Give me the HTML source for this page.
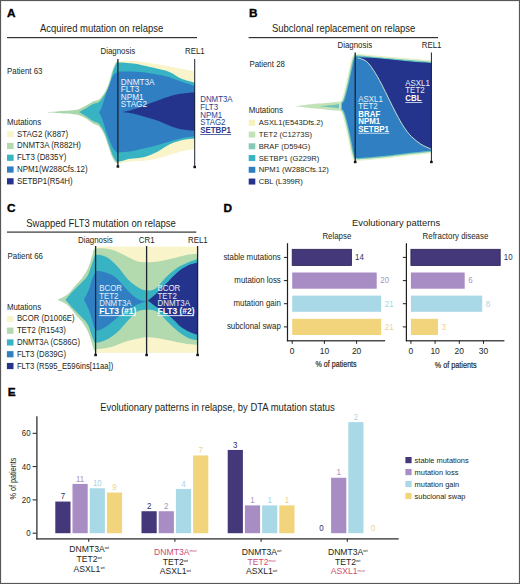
<!DOCTYPE html>
<html><head><meta charset="utf-8">
<style>
html,body{margin:0;padding:0;background:#fff;}
svg{display:block;}
text{font-family:"Liberation Sans",sans-serif;}
</style></head>
<body>
<svg width="520" height="584" viewBox="0 0 520 584">
<rect x="0" y="0" width="520" height="584" fill="#fff"/>
<text x="7.00" y="16.55" font-size="11.80" fill="#000" font-weight="bold" stroke="#000" stroke-width="0.35">A</text>
<text transform="translate(40.00,32.00) scale(0.9434,1)" font-size="10.07" fill="#231f20" >Acquired mutation on relapse</text>
<rect x="7.00" y="37.00" width="190.00" height="1.20" fill="#333" />
<text transform="translate(100.50,54.00) scale(0.9434,1)" font-size="8.37" fill="#231f20" >Diagnosis</text>
<text transform="translate(185.00,54.00) scale(0.9434,1)" font-size="8.37" fill="#231f20" >REL1</text>
<text transform="translate(7.00,73.50) scale(0.9434,1)" font-size="8.37" fill="#231f20" >Patient 63</text>
<text transform="translate(7.00,124.50) scale(0.9434,1)" font-size="8.37" fill="#231f20" >Mutations</text>
<path d="M48.0,111.9 C49.5,111.8 54.2,111.6 57.0,111.4 C59.8,111.2 62.0,111.0 65.0,110.8 C68.0,110.6 72.5,110.3 75.0,110.0 C77.5,109.7 78.2,109.5 80.0,108.8 C81.8,108.1 83.8,106.8 86.0,105.6 C88.2,104.4 90.8,102.5 93.0,101.5 C95.2,100.5 97.1,101.0 99.0,99.6 C100.9,98.1 102.9,95.5 104.5,92.8 C106.1,90.1 107.4,87.4 108.8,83.5 C110.2,79.6 111.6,73.0 112.8,69.5 C114.0,66.0 115.0,64.0 116.0,62.5 C117.0,61.0 118.1,61.1 118.5,60.8 L118.5,163.8 C118.0,163.5 116.6,163.4 115.5,162.2 C114.4,161.0 113.2,159.2 112.0,156.5 C110.8,153.8 109.5,149.6 108.3,146.0 C107.0,142.4 106.0,138.3 104.5,135.0 C103.0,131.7 100.9,128.1 99.0,126.2 C97.1,124.3 95.2,124.7 93.0,123.4 C90.8,122.1 88.2,119.9 86.0,118.6 C83.8,117.3 81.8,116.1 80.0,115.4 C78.2,114.7 77.5,114.7 75.0,114.4 C72.5,114.1 68.0,113.8 65.0,113.6 C62.0,113.4 59.8,113.2 57.0,113.0 C54.2,112.8 49.5,112.7 48.0,112.6 Z" fill="#acd6ac" />
<path d="M118.0,61.0 C120.0,61.0 126.3,61.0 130.0,61.1 C133.7,61.2 135.0,61.2 140.0,61.8 C145.0,62.4 155.0,63.9 160.0,64.7 C165.0,65.5 166.7,65.8 170.0,66.4 C173.3,67.0 175.8,67.7 180.0,68.5 C184.2,69.3 192.5,71.0 195.0,71.5 L195.0,149.0 C193.1,149.3 187.9,149.8 183.8,150.8 C179.7,151.8 174.9,153.5 170.4,154.8 C165.9,156.1 161.5,157.7 157.0,158.7 C152.5,159.7 148.0,160.3 143.5,160.8 C139.0,161.3 134.2,161.0 130.0,161.5 C125.8,162.0 120.0,163.2 118.0,163.6 Z" fill="#f9f4c9" />
<path d="M79.0,112.0 C80.2,111.4 83.7,109.5 86.0,108.2 C88.3,106.9 90.8,104.9 93.0,103.9 C95.2,102.9 97.1,103.5 99.0,102.0 C100.9,100.5 102.8,97.7 104.5,95.0 C106.2,92.3 107.6,89.8 109.0,86.0 C110.4,82.2 111.8,75.6 113.0,72.0 C114.2,68.4 115.1,66.1 116.0,64.5 C116.9,62.9 116.2,62.8 118.5,62.6 C120.8,62.4 126.4,62.9 130.0,63.3 C133.6,63.6 135.0,63.7 140.0,64.7 C145.0,65.7 155.0,68.0 160.0,69.3 C165.0,70.5 166.5,70.7 170.0,72.2 C173.5,73.7 176.8,76.7 181.0,78.5 C185.2,80.3 192.7,82.1 195.0,82.8 L195.0,138.4 C193.1,138.6 187.9,138.9 183.8,139.8 C179.7,140.7 174.9,142.0 170.4,144.0 C165.9,146.0 161.5,149.7 157.0,151.9 C152.5,154.1 148.0,156.0 143.5,157.2 C139.0,158.3 134.2,158.0 130.0,158.8 C125.8,159.6 120.9,161.6 118.5,161.8 C116.1,162.0 116.5,161.3 115.5,160.0 C114.5,158.7 113.5,156.9 112.3,154.2 C111.1,151.4 109.8,147.1 108.5,143.5 C107.2,139.9 106.1,135.8 104.5,132.5 C102.9,129.2 100.9,125.7 99.0,123.8 C97.1,121.9 95.2,122.3 93.0,121.0 C90.8,119.7 88.3,117.7 86.0,116.2 C83.7,114.7 80.2,112.7 79.0,112.0 Z" fill="#38b3c3" />
<path d="M99.0,112.5 C99.4,111.8 100.8,109.8 101.5,108.0 C102.2,106.2 102.8,104.3 103.5,102.0 C104.2,99.7 105.1,96.7 106.0,94.0 C106.9,91.3 107.8,89.0 109.0,86.0 C110.2,83.0 111.7,78.2 113.0,76.0 C114.3,73.8 115.8,73.2 117.0,72.5 C118.2,71.8 116.2,71.6 120.0,71.5 C123.8,71.4 133.3,71.4 140.0,72.0 C146.7,72.6 155.0,74.1 160.0,75.0 C165.0,75.9 166.5,76.4 170.0,77.5 C173.5,78.6 176.8,80.1 181.0,81.5 C185.2,82.9 192.7,85.2 195.0,86.0 L195.0,136.3 C193.1,136.6 187.9,137.0 183.8,137.8 C179.7,138.6 174.9,140.0 170.4,141.2 C165.9,142.4 161.5,144.0 157.0,145.2 C152.5,146.4 148.0,147.5 143.5,148.6 C139.0,149.7 133.9,151.0 130.0,151.6 C126.1,152.2 122.2,152.2 120.0,152.3 C117.8,152.5 118.2,153.2 117.0,152.5 C115.8,151.8 114.3,150.2 113.0,148.0 C111.7,145.8 110.2,141.8 109.0,139.0 C107.8,136.2 106.9,133.7 106.0,131.0 C105.1,128.3 104.2,125.3 103.5,123.0 C102.8,120.7 102.2,118.8 101.5,117.0 C100.8,115.2 99.4,113.2 99.0,112.5 Z" fill="#2f7fc2" />
<path d="M122.5,112.0 C123.9,111.7 128.2,110.9 131.0,110.2 C133.8,109.5 135.4,109.1 139.5,107.6 C143.6,106.1 150.4,103.3 155.8,101.3 C161.2,99.3 167.7,96.9 172.2,95.6 C176.7,94.3 179.2,94.1 183.0,93.6 C186.8,93.0 193.0,92.5 195.0,92.3 L195.0,131.0 C193.0,130.8 186.8,130.3 183.0,129.6 C179.2,128.9 176.7,128.3 172.2,126.7 C167.7,125.1 161.2,122.0 155.8,120.1 C150.4,118.2 143.6,116.3 139.5,115.2 C135.4,114.1 133.8,113.7 131.0,113.2 C128.2,112.7 123.9,112.2 122.5,112.0 Z" fill="#24348c" />
<rect x="117.25" y="59.00" width="1.30" height="107.50" fill="#1c2430" />
<rect x="116.60" y="165.30" width="2.60" height="2.40" fill="#111" />
<rect x="194.20" y="59.00" width="1.00" height="108.00" fill="#1c2430" />
<rect x="193.40" y="165.80" width="2.60" height="2.40" fill="#111" />
<text transform="translate(120.80,84.80) scale(0.9434,1)" font-size="8.69" fill="#eef5fc" >DNMT3A</text>
<text transform="translate(120.80,92.35) scale(0.9434,1)" font-size="8.69" fill="#eef5fc" >FLT3</text>
<text transform="translate(120.80,99.90) scale(0.9434,1)" font-size="8.69" fill="#eef5fc" >NPM1</text>
<text transform="translate(120.80,107.45) scale(0.9434,1)" font-size="8.69" fill="#eef5fc" >STAG2</text>
<text transform="translate(200.20,102.30) scale(0.9434,1)" font-size="8.37" fill="#2c3f8e" >DNMT3A</text>
<text transform="translate(200.20,109.95) scale(0.9434,1)" font-size="8.37" fill="#2c3f8e" >FLT3</text>
<text transform="translate(200.20,117.60) scale(0.9434,1)" font-size="8.37" fill="#2c3f8e" >NPM1</text>
<text transform="translate(200.20,125.25) scale(0.9434,1)" font-size="8.37" fill="#2c3f8e" >STAG2</text>
<text transform="translate(200.20,132.90) scale(0.9434,1)" font-size="8.37" fill="#2c3f8e" font-weight="bold" >SETBP1</text>
<rect x="200.20" y="134.00" width="31.00" height="0.80" fill="#2c3f8e" />
<rect x="7.00" y="131.10" width="6.60" height="6.20" fill="#f9f4c9" />
<text transform="translate(17.00,136.70) scale(0.9434,1)" font-size="8.37" fill="#231f20" >STAG2 (K887)</text>
<rect x="7.00" y="142.88" width="6.60" height="6.20" fill="#b3d9ae" />
<text transform="translate(17.00,148.48) scale(0.9434,1)" font-size="8.37" fill="#231f20" >DNMT3A (R882H)</text>
<rect x="7.00" y="154.66" width="6.60" height="6.20" fill="#38b3c3" />
<text transform="translate(17.00,160.26) scale(0.9434,1)" font-size="8.37" fill="#231f20" >FLT3 (D835Y)</text>
<rect x="7.00" y="166.44" width="6.60" height="6.20" fill="#2f7fc2" />
<text transform="translate(17.00,172.04) scale(0.9434,1)" font-size="8.37" fill="#231f20" >NPM1(W288Cfs.12)</text>
<rect x="7.00" y="178.22" width="6.60" height="6.20" fill="#24348c" />
<text transform="translate(17.00,183.82) scale(0.9434,1)" font-size="8.37" fill="#231f20" >SETBP1(R54H)</text>
<text x="249.00" y="16.60" font-size="11.80" fill="#000" font-weight="bold" stroke="#000" stroke-width="0.35">B</text>
<text transform="translate(272.00,31.80) scale(0.9434,1)" font-size="10.07" fill="#231f20" >Subclonal replacement on relapse</text>
<rect x="248.60" y="37.00" width="189.40" height="1.20" fill="#333" />
<text transform="translate(337.50,47.60) scale(0.9434,1)" font-size="8.37" fill="#231f20" >Diagnosis</text>
<text transform="translate(421.70,47.60) scale(0.9434,1)" font-size="8.37" fill="#231f20" >REL1</text>
<text transform="translate(249.40,66.80) scale(0.9434,1)" font-size="8.37" fill="#231f20" >Patient 28</text>
<text transform="translate(248.70,113.00) scale(0.9434,1)" font-size="8.37" fill="#231f20" >Mutations</text>
<path d="M295.5,106.2 C297.1,106.0 301.2,105.4 305.0,105.0 C308.8,104.6 313.5,104.0 318.0,103.6 C322.5,103.2 328.3,102.7 332.0,102.4 C335.7,102.1 337.8,101.9 340.0,101.6 C342.2,101.3 344.2,100.9 345.0,100.8 L345.0,111.8 C344.2,111.7 342.2,111.3 340.0,111.0 C337.8,110.7 335.7,110.6 332.0,110.2 C328.3,109.8 322.5,109.3 318.0,108.8 C313.5,108.3 308.8,107.8 305.0,107.4 C301.2,107.0 297.1,106.4 295.5,106.2 Z" fill="#c4e2b8" />
<path d="M318.0,106.2 C320.0,106.0 326.7,105.5 330.0,105.2 C333.3,104.9 335.7,104.6 338.0,104.3 C340.3,104.0 343.0,103.7 344.0,103.6 L344.0,108.8 C343.0,108.7 340.3,108.5 338.0,108.2 C335.7,107.9 333.3,107.5 330.0,107.2 C326.7,106.9 320.0,106.4 318.0,106.2 Z" fill="#72c2b6" />
<clipPath id="bclip"><rect x="300" y="40" width="131.5" height="130"/></clipPath>
<g clip-path="url(#bclip)">
<path d="M342.0,103.4 C342.4,102.9 343.4,102.7 344.2,100.6 C345.0,98.5 346.1,94.6 347.0,91.0 C347.9,87.4 349.0,82.8 349.8,79.0 C350.6,75.2 351.4,71.5 352.0,68.5 C352.6,65.5 353.1,63.1 353.6,61.2 C354.1,59.4 354.4,58.2 355.0,57.4 C355.6,56.6 354.5,56.4 357.0,56.5 C359.5,56.6 364.5,57.3 370.0,57.8 C375.5,58.3 383.3,59.0 390.0,59.6 C396.7,60.2 403.1,60.8 410.0,61.4 C416.9,62.0 427.9,62.7 431.5,63.0 L431.5,150.4 C427.9,150.8 416.9,152.0 410.0,152.8 C403.1,153.6 396.7,154.5 390.0,155.2 C383.3,155.9 375.5,156.7 370.0,157.2 C364.5,157.7 359.5,158.0 357.0,158.0 C354.5,158.0 355.6,157.9 355.0,157.0 C354.4,156.1 354.1,154.6 353.6,152.5 C353.1,150.4 352.6,147.7 352.0,144.5 C351.4,141.3 350.6,137.3 349.8,133.5 C349.0,129.7 347.9,125.1 347.0,121.5 C346.1,117.9 345.0,114.0 344.2,112.0 C343.4,110.0 342.4,109.7 342.0,109.2 Z" fill="#e4f1c9" stroke="#e4f1c9" stroke-width="5.6" stroke-linejoin="round"/>
<path d="M342.0,103.4 C342.4,102.9 343.4,102.7 344.2,100.6 C345.0,98.5 346.1,94.6 347.0,91.0 C347.9,87.4 349.0,82.8 349.8,79.0 C350.6,75.2 351.4,71.5 352.0,68.5 C352.6,65.5 353.1,63.1 353.6,61.2 C354.1,59.4 354.4,58.2 355.0,57.4 C355.6,56.6 354.5,56.4 357.0,56.5 C359.5,56.6 364.5,57.3 370.0,57.8 C375.5,58.3 383.3,59.0 390.0,59.6 C396.7,60.2 403.1,60.8 410.0,61.4 C416.9,62.0 427.9,62.7 431.5,63.0 L431.5,150.4 C427.9,150.8 416.9,152.0 410.0,152.8 C403.1,153.6 396.7,154.5 390.0,155.2 C383.3,155.9 375.5,156.7 370.0,157.2 C364.5,157.7 359.5,158.0 357.0,158.0 C354.5,158.0 355.6,157.9 355.0,157.0 C354.4,156.1 354.1,154.6 353.6,152.5 C353.1,150.4 352.6,147.7 352.0,144.5 C351.4,141.3 350.6,137.3 349.8,133.5 C349.0,129.7 347.9,125.1 347.0,121.5 C346.1,117.9 345.0,114.0 344.2,112.0 C343.4,110.0 342.4,109.7 342.0,109.2 Z" fill="#6cc3bd" stroke="#6cc3bd" stroke-width="2.6" stroke-linejoin="round"/>
<path d="M342.0,103.4 C342.4,102.9 343.4,102.7 344.2,100.6 C345.0,98.5 346.1,94.6 347.0,91.0 C347.9,87.4 349.0,82.8 349.8,79.0 C350.6,75.2 351.4,71.5 352.0,68.5 C352.6,65.5 353.1,63.1 353.6,61.2 C354.1,59.4 354.4,58.2 355.0,57.4 C355.6,56.6 354.5,56.4 357.0,56.5 C359.5,56.6 364.5,57.3 370.0,57.8 C375.5,58.3 383.3,59.0 390.0,59.6 C396.7,60.2 403.1,60.8 410.0,61.4 C416.9,62.0 427.9,62.7 431.5,63.0 L431.5,150.4 C427.9,150.8 416.9,152.0 410.0,152.8 C403.1,153.6 396.7,154.5 390.0,155.2 C383.3,155.9 375.5,156.7 370.0,157.2 C364.5,157.7 359.5,158.0 357.0,158.0 C354.5,158.0 355.6,157.9 355.0,157.0 C354.4,156.1 354.1,154.6 353.6,152.5 C353.1,150.4 352.6,147.7 352.0,144.5 C351.4,141.3 350.6,137.3 349.8,133.5 C349.0,129.7 347.9,125.1 347.0,121.5 C346.1,117.9 345.0,114.0 344.2,112.0 C343.4,110.0 342.4,109.7 342.0,109.2 Z" fill="#2f7fc2"/>
</g>
<path d="M357.5,57.8 C359.6,57.8 364.6,57.5 370.0,57.8 C375.4,58.1 383.3,59.0 390.0,59.6 C396.7,60.2 403.1,60.8 410.0,61.4 C416.9,62.0 427.9,62.7 431.5,63.0 L431.5,149.2 C429.7,148.4 424.2,146.3 420.9,144.2 C417.6,142.1 414.3,139.4 411.5,136.6 C408.7,133.8 406.5,131.0 404.0,127.2 C401.5,123.4 398.9,118.7 396.4,114.0 C393.9,109.3 391.4,104.0 388.9,99.0 C386.4,94.0 383.9,88.6 381.4,83.9 C378.9,79.2 376.3,74.5 373.8,70.7 C371.3,66.9 369.0,63.4 366.3,61.3 C363.6,59.1 359.0,58.4 357.5,57.8 Z" fill="#24348c" />
<path d="M357.5,57.8 C359.0,58.4 363.6,59.1 366.3,61.3 C369.0,63.4 371.3,66.9 373.8,70.7 C376.3,74.5 378.9,79.2 381.4,83.9 C383.9,88.6 386.4,94.0 388.9,99.0 C391.4,104.0 393.9,109.3 396.4,114.0 C398.9,118.7 401.5,123.4 404.0,127.2 C406.5,131.0 408.7,133.8 411.5,136.6 C414.3,139.4 417.6,142.1 420.9,144.2 C424.2,146.3 429.7,148.4 431.5,149.2" fill="none" stroke="#d7ecd2" stroke-width="0.9"/>
<rect x="354.55" y="52.50" width="1.30" height="109.50" fill="#1c2430" />
<rect x="353.90" y="160.80" width="2.60" height="2.40" fill="#111" />
<rect x="430.90" y="52.50" width="1.00" height="109.50" fill="#1c2430" />
<rect x="430.10" y="160.80" width="2.60" height="2.40" fill="#111" />
<text transform="translate(358.30,101.70) scale(0.9434,1)" font-size="8.37" fill="#e6f0fa" >ASXL1</text>
<text transform="translate(358.30,109.20) scale(0.9434,1)" font-size="8.37" fill="#e6f0fa" >TET2</text>
<text transform="translate(358.30,116.60) scale(0.9434,1)" font-size="8.37" fill="#fff" font-weight="bold" >BRAF</text>
<text transform="translate(358.30,124.10) scale(0.9434,1)" font-size="8.37" fill="#fff" font-weight="bold" >NPM1</text>
<text transform="translate(358.30,131.60) scale(0.9434,1)" font-size="8.37" fill="#fff" font-weight="bold" >SETBP1</text>
<rect x="358.30" y="132.80" width="31.00" height="0.80" fill="#e6f0fa" />
<text transform="translate(405.30,85.60) scale(0.9434,1)" font-size="8.37" fill="#e6f0fa" >ASXL1</text>
<text transform="translate(405.30,93.00) scale(0.9434,1)" font-size="8.37" fill="#e6f0fa" >TET2</text>
<text transform="translate(405.30,100.90) scale(0.9434,1)" font-size="8.37" fill="#fff" font-weight="bold" >CBL</text>
<rect x="405.30" y="102.10" width="17.00" height="0.80" fill="#e6f0fa" />
<rect x="248.70" y="119.80" width="6.60" height="6.00" fill="#f7f1be" />
<text transform="translate(258.80,125.30) scale(0.9434,1)" font-size="8.06" fill="#231f20" >ASXL1(E543Dfs.2)</text>
<rect x="248.70" y="131.55" width="6.60" height="6.00" fill="#c4e2b8" />
<text transform="translate(258.80,137.05) scale(0.9434,1)" font-size="8.06" fill="#231f20" >TET2 (C1273S)</text>
<rect x="248.70" y="143.30" width="6.60" height="6.00" fill="#85c9b6" />
<text transform="translate(258.80,148.80) scale(0.9434,1)" font-size="8.06" fill="#231f20" >BRAF (D594G)</text>
<rect x="248.70" y="155.05" width="6.60" height="6.00" fill="#38b3c3" />
<text transform="translate(258.80,160.55) scale(0.9434,1)" font-size="8.06" fill="#231f20" >SETBP1 (G229R)</text>
<rect x="248.70" y="166.80" width="6.60" height="6.00" fill="#2f7fc2" />
<text transform="translate(258.80,172.30) scale(0.9434,1)" font-size="8.06" fill="#231f20" >NPM1 (W288Cfs.12)</text>
<rect x="248.70" y="178.55" width="6.60" height="6.00" fill="#24348c" />
<text transform="translate(258.80,184.05) scale(0.9434,1)" font-size="8.06" fill="#231f20" >CBL (L399R)</text>
<text x="7.00" y="212.00" font-size="11.80" fill="#000" font-weight="bold" stroke="#000" stroke-width="0.35">C</text>
<text transform="translate(26.25,227.00) scale(0.9434,1)" font-size="10.07" fill="#231f20" >Swapped FLT3 mutation on relapse</text>
<rect x="7.00" y="231.50" width="189.25" height="1.20" fill="#333" />
<text transform="translate(78.00,242.50) scale(0.9434,1)" font-size="8.37" fill="#231f20" >Diagnosis</text>
<text transform="translate(138.75,242.50) scale(0.9434,1)" font-size="8.37" fill="#231f20" >CR1</text>
<text transform="translate(188.00,242.50) scale(0.9434,1)" font-size="8.37" fill="#231f20" >REL1</text>
<text transform="translate(7.50,258.75) scale(0.9434,1)" font-size="8.37" fill="#231f20" >Patient 66</text>
<text transform="translate(6.90,309.80) scale(0.9434,1)" font-size="8.37" fill="#231f20" >Mutations</text>
<path d="M57.5,299.7 C58.3,299.4 60.5,298.6 62.3,297.6 C64.1,296.6 66.1,295.8 68.5,293.5 C70.9,291.2 74.3,286.8 76.7,284.0 C79.1,281.2 80.9,280.0 82.9,277.0 C85.0,274.0 87.3,270.1 89.0,266.0 C90.7,261.9 92.0,255.6 93.2,252.3 C94.4,249.1 95.5,247.5 96.0,246.5 L96.0,353.0 C95.5,352.1 94.4,350.9 93.2,347.7 C92.0,344.5 90.7,338.1 89.0,334.0 C87.3,329.9 85.0,326.0 82.9,323.0 C80.9,320.0 79.1,318.8 76.7,316.0 C74.3,313.2 70.9,308.3 68.5,306.0 C66.1,303.7 64.1,303.1 62.3,302.0 C60.5,300.9 58.3,300.1 57.5,299.7 Z" fill="#b3d9ae" />
<rect x="95.90" y="246.60" width="102.00" height="106.20" fill="#f9f4c9" />
<path d="M93.0,252.0 C93.5,251.4 93.3,248.8 96.3,248.4 C99.3,248.0 106.2,248.2 111.2,249.5 C116.2,250.8 121.8,254.0 126.0,255.9 C130.2,257.8 133.1,259.9 136.5,261.0 C139.9,262.1 142.8,262.2 146.7,262.2 C150.6,262.2 155.2,261.9 159.8,261.2 C164.5,260.5 170.0,259.1 174.6,258.0 C179.2,256.9 183.4,255.5 187.3,254.8 C191.2,254.1 196.1,254.0 197.9,253.8 L197.9,344.8 C196.1,344.7 191.2,344.6 187.3,344.0 C183.4,343.4 179.2,342.4 174.6,341.5 C170.0,340.6 164.5,339.1 159.8,338.4 C155.2,337.7 150.2,337.3 146.7,337.3 C143.2,337.3 142.1,337.7 138.7,338.4 C135.2,339.1 130.6,340.1 126.0,341.5 C121.4,342.9 116.2,345.7 111.2,347.0 C106.2,348.3 99.3,349.0 96.3,349.2 C93.3,349.4 93.5,348.2 93.0,348.0 Z" fill="#b3d9ae" />
<path d="M65.4,299.7 C66.6,298.3 70.0,294.1 72.6,291.4 C75.2,288.6 78.3,285.9 80.9,283.2 C83.5,280.5 86.0,278.8 88.0,275.0 C90.0,271.2 91.8,264.0 93.2,260.6 C94.6,257.2 94.0,255.4 96.3,254.8 C98.6,254.2 103.4,255.2 106.9,257.2 C110.4,259.1 114.0,262.8 117.5,266.5 C121.0,270.2 124.5,275.9 128.0,279.5 C131.5,283.1 135.6,286.0 138.7,287.8 C141.8,289.6 143.9,290.4 146.7,290.5 C149.5,290.6 152.3,290.8 155.6,288.5 C158.8,286.2 162.7,280.4 166.2,277.0 C169.7,273.6 173.2,270.7 176.7,268.3 C180.2,265.9 183.8,264.4 187.3,262.8 C190.8,261.2 196.1,259.5 197.9,258.8 L197.9,340.2 C196.5,339.9 192.6,340.0 189.4,338.6 C186.2,337.2 182.3,334.7 178.8,332.0 C175.3,329.3 171.8,325.8 168.3,322.5 C164.8,319.2 161.3,314.1 157.7,312.0 C154.1,309.9 150.2,309.8 146.7,309.8 C143.2,309.8 139.6,310.2 136.5,312.0 C133.4,313.8 131.2,317.1 128.0,320.4 C124.8,323.7 121.0,328.8 117.5,332.0 C114.0,335.2 110.4,337.6 106.9,339.4 C103.4,341.2 98.6,342.6 96.3,342.6 C94.0,342.6 94.6,342.3 93.2,339.4 C91.8,336.5 90.0,328.8 88.0,325.0 C86.0,321.2 83.5,319.3 80.9,316.5 C78.3,313.7 75.2,310.8 72.6,308.0 C70.0,305.2 66.6,301.1 65.4,299.7 Z" fill="#38b3c3" />
<path d="M84.0,299.7 C84.8,298.0 87.6,292.8 89.0,289.4 C90.4,286.0 91.0,282.1 92.2,279.1 C93.4,276.1 94.1,272.5 96.3,271.4 C98.5,270.3 102.3,271.5 105.6,272.6 C108.9,273.7 112.7,275.2 116.2,278.0 C119.7,280.8 123.2,286.0 126.7,289.5 C130.2,293.0 133.9,296.8 137.3,298.8 C140.7,300.8 145.4,301.1 147.0,301.6 L147.0,301.6 C145.6,302.0 141.9,302.7 138.7,304.0 C135.5,305.3 131.5,306.9 128.0,309.2 C124.5,311.4 121.0,314.7 117.5,317.5 C114.0,320.3 110.4,323.9 106.9,326.0 C103.4,328.1 98.8,331.2 96.3,330.2 C93.8,329.2 93.4,323.6 92.2,320.2 C91.0,316.8 90.4,313.4 89.0,310.0 C87.6,306.6 84.8,301.4 84.0,299.7 Z" fill="#2f7fc2" />
<path d="M147.8,300.6 C149.1,299.5 152.5,297.0 155.6,294.2 C158.7,291.4 162.7,287.1 166.2,283.6 C169.7,280.1 173.2,276.0 176.7,273.0 C180.2,270.0 183.8,267.5 187.3,265.8 C190.8,264.1 196.1,263.1 197.9,262.6 L197.9,334.8 C196.8,334.5 194.3,334.1 191.5,332.8 C188.7,331.5 184.5,329.7 181.0,327.0 C177.5,324.3 174.6,320.2 170.4,316.8 C166.2,313.4 159.4,309.2 155.6,306.5 C151.8,303.8 149.1,301.6 147.8,300.6 Z" fill="#24348c" />
<rect x="94.95" y="246.00" width="1.30" height="109.00" fill="#1c2430" />
<rect x="94.30" y="353.80" width="2.60" height="2.40" fill="#111" />
<rect x="145.95" y="246.00" width="1.30" height="109.00" fill="#1c2430" />
<rect x="145.30" y="353.80" width="2.60" height="2.40" fill="#111" />
<rect x="196.95" y="246.00" width="1.30" height="109.00" fill="#1c2430" />
<rect x="196.30" y="353.80" width="2.60" height="2.40" fill="#111" />
<text transform="translate(99.20,291.20) scale(0.9434,1)" font-size="8.37" fill="#e6f0fa" >BCOR</text>
<text transform="translate(99.20,298.60) scale(0.9434,1)" font-size="8.37" fill="#e6f0fa" >TET2</text>
<text transform="translate(99.20,306.00) scale(0.9434,1)" font-size="8.37" fill="#e6f0fa" >DNMT3A</text>
<text transform="translate(99.20,313.90) scale(0.9434,1)" font-size="9.01" fill="#fff" font-weight="bold" >FLT3 (#1)</text>
<rect x="99.20" y="315.20" width="36.50" height="0.90" fill="#eef5fc" />
<text transform="translate(157.50,291.20) scale(0.9434,1)" font-size="8.37" fill="#e6f0fa" >BCOR</text>
<text transform="translate(157.50,298.60) scale(0.9434,1)" font-size="8.37" fill="#e6f0fa" >TET2</text>
<text transform="translate(157.50,306.00) scale(0.9434,1)" font-size="8.37" fill="#e6f0fa" >DNMT3A</text>
<text transform="translate(157.50,313.90) scale(0.9434,1)" font-size="9.01" fill="#fff" font-weight="bold" >FLT3 (#2)</text>
<rect x="157.50" y="315.20" width="36.50" height="0.90" fill="#eef5fc" />
<rect x="6.90" y="315.80" width="6.60" height="6.20" fill="#f9f4c9" />
<text transform="translate(16.90,321.40) scale(0.9434,1)" font-size="8.21" fill="#231f20" >BCOR (D1006E)</text>
<rect x="6.90" y="327.58" width="6.60" height="6.20" fill="#b3d9ae" />
<text transform="translate(16.90,333.18) scale(0.9434,1)" font-size="8.21" fill="#231f20" >TET2 (R1543)</text>
<rect x="6.90" y="339.36" width="6.60" height="6.20" fill="#38b3c3" />
<text transform="translate(16.90,344.96) scale(0.9434,1)" font-size="8.21" fill="#231f20" >DNMT3A (C586G)</text>
<rect x="6.90" y="351.14" width="6.60" height="6.20" fill="#2f7fc2" />
<text transform="translate(16.90,356.74) scale(0.9434,1)" font-size="8.21" fill="#231f20" >FLT3 (D839G)</text>
<rect x="6.90" y="362.92" width="6.60" height="6.20" fill="#24348c" />
<text transform="translate(16.90,368.52) scale(0.9434,1)" font-size="8.21" fill="#231f20" >FLT3 (R595_E596ins[11aa])</text>
<text x="223.50" y="212.00" font-size="11.80" fill="#000" font-weight="bold" stroke="#000" stroke-width="0.35">D</text>
<text transform="translate(352.00,225.80) scale(0.9434,1)" font-size="9.96" fill="#231f20" >Evolutionary patterns</text>
<text transform="translate(322.40,239.00) scale(0.9434,1)" font-size="8.37" fill="#231f20" >Relapse</text>
<text transform="translate(422.60,238.50) scale(0.9434,1)" font-size="8.37" fill="#231f20" >Refractory disease</text>
<text transform="translate(280.80,259.90) scale(0.9434,1)" font-size="8.37" fill="#231f20" text-anchor="end" >stable mutations</text>
<text transform="translate(280.80,283.10) scale(0.9434,1)" font-size="8.37" fill="#231f20" text-anchor="end" >mutation loss</text>
<text transform="translate(280.80,306.20) scale(0.9434,1)" font-size="8.37" fill="#231f20" text-anchor="end" >mutation gain</text>
<text transform="translate(280.80,329.40) scale(0.9434,1)" font-size="8.37" fill="#231f20" text-anchor="end" >subclonal swap</text>
<rect x="286.90" y="243.20" width="1.20" height="98.00" fill="#231f20" />
<rect x="286.90" y="340.20" width="98.20" height="1.20" fill="#231f20" />
<rect x="283.90" y="256.90" width="3.20" height="1.00" fill="#231f20" />
<rect x="283.90" y="280.10" width="3.20" height="1.00" fill="#231f20" />
<rect x="283.90" y="303.20" width="3.20" height="1.00" fill="#231f20" />
<rect x="283.90" y="326.40" width="3.20" height="1.00" fill="#231f20" />
<rect x="292.20" y="249.30" width="59.30" height="16.20" fill="#44377a" stroke="#2b2255" stroke-width="0.8"/>
<text transform="translate(355.10,260.20) scale(0.9434,1)" font-size="8.37" fill="#2e3066" >14</text>
<rect x="292.20" y="272.50" width="84.50" height="16.20" fill="#a88cc4" />
<text transform="translate(380.30,283.40) scale(0.9434,1)" font-size="8.37" fill="#a596c2" >20</text>
<rect x="292.20" y="295.60" width="89.00" height="16.20" fill="#a9d9e6" />
<text transform="translate(384.80,306.50) scale(0.9434,1)" font-size="8.37" fill="#a6d5e4" >21</text>
<rect x="292.20" y="318.80" width="89.00" height="16.20" fill="#f1d47c" />
<text transform="translate(384.80,329.70) scale(0.9434,1)" font-size="8.37" fill="#ecd48a" >21</text>
<rect x="291.70" y="340.60" width="1.00" height="3.20" fill="#231f20" />
<text transform="translate(292.20,354.00) scale(0.9434,1)" font-size="9.01" fill="#231f20" text-anchor="middle" >0</text>
<rect x="323.90" y="340.60" width="1.00" height="3.20" fill="#231f20" />
<text transform="translate(324.40,354.00) scale(0.9434,1)" font-size="9.01" fill="#231f20" text-anchor="middle" >10</text>
<rect x="356.10" y="340.60" width="1.00" height="3.20" fill="#231f20" />
<text transform="translate(356.60,354.00) scale(0.9434,1)" font-size="9.01" fill="#231f20" text-anchor="middle" >20</text>
<rect x="405.80" y="243.20" width="1.20" height="98.00" fill="#231f20" />
<rect x="405.80" y="340.20" width="98.60" height="1.20" fill="#231f20" />
<rect x="402.80" y="256.90" width="3.20" height="1.00" fill="#231f20" />
<rect x="402.80" y="280.10" width="3.20" height="1.00" fill="#231f20" />
<rect x="402.80" y="303.20" width="3.20" height="1.00" fill="#231f20" />
<rect x="402.80" y="326.40" width="3.20" height="1.00" fill="#231f20" />
<rect x="410.90" y="249.30" width="89.30" height="16.20" fill="#44377a" stroke="#2b2255" stroke-width="0.8"/>
<text transform="translate(503.80,260.20) scale(0.9434,1)" font-size="8.37" fill="#2e3066" >10</text>
<rect x="410.90" y="272.50" width="53.80" height="16.20" fill="#a88cc4" />
<text transform="translate(468.30,283.40) scale(0.9434,1)" font-size="8.37" fill="#a596c2" >6</text>
<rect x="410.90" y="295.60" width="71.30" height="16.20" fill="#a9d9e6" />
<text transform="translate(485.80,306.50) scale(0.9434,1)" font-size="8.37" fill="#a6d5e4" >8</text>
<rect x="410.90" y="318.80" width="27.10" height="16.20" fill="#f1d47c" />
<text transform="translate(441.60,329.70) scale(0.9434,1)" font-size="8.37" fill="#ecd48a" >3</text>
<rect x="410.40" y="340.60" width="1.00" height="3.20" fill="#231f20" />
<text transform="translate(410.90,354.00) scale(0.9434,1)" font-size="9.01" fill="#231f20" text-anchor="middle" >0</text>
<rect x="434.60" y="340.60" width="1.00" height="3.20" fill="#231f20" />
<text transform="translate(435.10,354.00) scale(0.9434,1)" font-size="9.01" fill="#231f20" text-anchor="middle" >10</text>
<rect x="458.80" y="340.60" width="1.00" height="3.20" fill="#231f20" />
<text transform="translate(459.30,354.00) scale(0.9434,1)" font-size="9.01" fill="#231f20" text-anchor="middle" >20</text>
<rect x="483.00" y="340.60" width="1.00" height="3.20" fill="#231f20" />
<text transform="translate(483.50,354.00) scale(0.9434,1)" font-size="9.01" fill="#231f20" text-anchor="middle" >30</text>
<text x="315.6" y="367.2" font-size="9.4" fill="#231f20" stroke="#231f20" stroke-width="0.2" textLength="41" lengthAdjust="spacingAndGlyphs">% of patients</text>
<text x="434.7" y="367.6" font-size="9.4" fill="#231f20" stroke="#231f20" stroke-width="0.2" textLength="42" lengthAdjust="spacingAndGlyphs">% of patients</text>
<text x="7.80" y="396.30" font-size="11.80" fill="#000" font-weight="bold" stroke="#000" stroke-width="0.35">E</text>
<text transform="translate(100.20,410.60) scale(0.9434,1)" font-size="10.02" fill="#231f20" >Evolutionary patterns in relapse, by DTA mutation status</text>
<rect x="36.30" y="416.30" width="1.20" height="123.10" fill="#231f20" />
<rect x="36.30" y="538.30" width="362.40" height="1.20" fill="#231f20" />
<rect x="32.60" y="532.70" width="4.00" height="1.00" fill="#231f20" />
<text transform="translate(30.60,536.10) scale(0.9434,1)" font-size="8.37" fill="#231f20" text-anchor="end" >0</text>
<rect x="32.60" y="499.40" width="4.00" height="1.00" fill="#231f20" />
<text transform="translate(30.60,502.80) scale(0.9434,1)" font-size="8.37" fill="#231f20" text-anchor="end" >20</text>
<rect x="32.60" y="466.10" width="4.00" height="1.00" fill="#231f20" />
<text transform="translate(30.60,469.50) scale(0.9434,1)" font-size="8.37" fill="#231f20" text-anchor="end" >40</text>
<rect x="32.60" y="432.80" width="4.00" height="1.00" fill="#231f20" />
<text transform="translate(30.60,436.20) scale(0.9434,1)" font-size="8.37" fill="#231f20" text-anchor="end" >60</text>
<text transform="translate(15.6,478.6) rotate(-90)" x="0" y="0" font-size="9.4" fill="#231f20" text-anchor="middle" textLength="42" lengthAdjust="spacingAndGlyphs">% of patients</text>
<rect x="88.20" y="539.00" width="1.00" height="2.80" fill="#231f20" />
<rect x="55.30" y="501.57" width="15.20" height="31.64" fill="#44377a" />
<text transform="translate(62.90,499.17) scale(0.9434,1)" font-size="8.37" fill="#2e3066" text-anchor="middle" >7</text>
<rect x="72.50" y="483.92" width="15.20" height="49.28" fill="#a88cc4" />
<text transform="translate(80.10,481.52) scale(0.9434,1)" font-size="8.37" fill="#a596c2" text-anchor="middle" >11</text>
<rect x="89.70" y="488.25" width="15.20" height="44.95" fill="#a9d9e6" />
<text transform="translate(97.30,485.85) scale(0.9434,1)" font-size="8.37" fill="#a6d5e4" text-anchor="middle" >10</text>
<rect x="106.90" y="492.57" width="15.20" height="40.63" fill="#f1d47c" />
<text transform="translate(114.50,490.17) scale(0.9434,1)" font-size="8.37" fill="#ecd48a" text-anchor="middle" >9</text>
<rect x="174.40" y="539.00" width="1.00" height="2.80" fill="#231f20" />
<rect x="141.50" y="511.22" width="15.20" height="21.98" fill="#44377a" />
<text transform="translate(149.10,508.82) scale(0.9434,1)" font-size="8.37" fill="#2e3066" text-anchor="middle" >2</text>
<rect x="158.70" y="511.22" width="15.20" height="21.98" fill="#a88cc4" />
<text transform="translate(166.30,508.82) scale(0.9434,1)" font-size="8.37" fill="#a596c2" text-anchor="middle" >2</text>
<rect x="175.90" y="488.91" width="15.20" height="44.29" fill="#a9d9e6" />
<text transform="translate(183.50,486.51) scale(0.9434,1)" font-size="8.37" fill="#a6d5e4" text-anchor="middle" >4</text>
<rect x="193.10" y="455.44" width="15.20" height="77.76" fill="#f1d47c" />
<text transform="translate(200.70,453.04) scale(0.9434,1)" font-size="8.37" fill="#ecd48a" text-anchor="middle" >7</text>
<rect x="260.60" y="539.00" width="1.00" height="2.80" fill="#231f20" />
<rect x="227.70" y="449.95" width="15.20" height="83.25" fill="#44377a" />
<text transform="translate(235.30,447.55) scale(0.9434,1)" font-size="8.37" fill="#2e3066" text-anchor="middle" >3</text>
<rect x="244.90" y="505.39" width="15.20" height="27.81" fill="#a88cc4" />
<text transform="translate(252.50,502.99) scale(0.9434,1)" font-size="8.37" fill="#a596c2" text-anchor="middle" >1</text>
<rect x="262.10" y="505.39" width="15.20" height="27.81" fill="#a9d9e6" />
<text transform="translate(269.70,502.99) scale(0.9434,1)" font-size="8.37" fill="#a6d5e4" text-anchor="middle" >1</text>
<rect x="279.30" y="505.39" width="15.20" height="27.81" fill="#f1d47c" />
<text transform="translate(286.90,502.99) scale(0.9434,1)" font-size="8.37" fill="#ecd48a" text-anchor="middle" >1</text>
<rect x="346.80" y="539.00" width="1.00" height="2.80" fill="#231f20" />
<text transform="translate(321.50,530.80) scale(0.9434,1)" font-size="8.37" fill="#2e3066" text-anchor="middle" >0</text>
<rect x="331.10" y="477.76" width="15.20" height="55.44" fill="#a88cc4" />
<text transform="translate(338.70,475.36) scale(0.9434,1)" font-size="8.37" fill="#a596c2" text-anchor="middle" >1</text>
<rect x="348.30" y="422.14" width="15.20" height="111.06" fill="#a9d9e6" />
<text transform="translate(355.90,419.74) scale(0.9434,1)" font-size="8.37" fill="#a6d5e4" text-anchor="middle" >2</text>
<text transform="translate(373.10,530.80) scale(0.9434,1)" font-size="8.37" fill="#ecd48a" text-anchor="middle" >0</text>
<text x="89.20" y="552.00" font-size="8.6" text-anchor="middle"><tspan fill="#231f20">DNMT3A</tspan><tspan fill="#231f20" font-size="4.4" dy="-2.8">wt</tspan></text>
<text x="89.20" y="561.90" font-size="8.6" text-anchor="middle"><tspan fill="#231f20">TET2</tspan><tspan fill="#231f20" font-size="4.4" dy="-2.8">wt</tspan></text>
<text x="89.20" y="571.60" font-size="8.6" text-anchor="middle"><tspan fill="#231f20">ASXL1</tspan><tspan fill="#231f20" font-size="4.4" dy="-2.8">wt</tspan></text>
<text x="175.40" y="554.70" font-size="8.6" text-anchor="middle"><tspan fill="#cc4f72">DNMT3A</tspan><tspan fill="#cc4f72" font-size="4.4" dy="-2.8">mut</tspan></text>
<text x="175.40" y="564.60" font-size="8.6" text-anchor="middle"><tspan fill="#231f20">TET2</tspan><tspan fill="#231f20" font-size="4.4" dy="-2.8">wt</tspan></text>
<text x="175.40" y="574.30" font-size="8.6" text-anchor="middle"><tspan fill="#231f20">ASXL1</tspan><tspan fill="#231f20" font-size="4.4" dy="-2.8">wt</tspan></text>
<text x="261.60" y="554.70" font-size="8.6" text-anchor="middle"><tspan fill="#231f20">DNMT3A</tspan><tspan fill="#231f20" font-size="4.4" dy="-2.8">wt</tspan></text>
<text x="261.60" y="564.60" font-size="8.6" text-anchor="middle"><tspan fill="#cc4f72">TET2</tspan><tspan fill="#cc4f72" font-size="4.4" dy="-2.8">mut</tspan></text>
<text x="261.60" y="574.30" font-size="8.6" text-anchor="middle"><tspan fill="#231f20">ASXL1</tspan><tspan fill="#231f20" font-size="4.4" dy="-2.8">wt</tspan></text>
<text x="347.80" y="554.70" font-size="8.6" text-anchor="middle"><tspan fill="#231f20">DNMT3A</tspan><tspan fill="#231f20" font-size="4.4" dy="-2.8">wt</tspan></text>
<text x="347.80" y="564.60" font-size="8.6" text-anchor="middle"><tspan fill="#231f20">TET2</tspan><tspan fill="#231f20" font-size="4.4" dy="-2.8">wt</tspan></text>
<text x="347.80" y="574.30" font-size="8.6" text-anchor="middle"><tspan fill="#cc4f72">ASXL1</tspan><tspan fill="#cc4f72" font-size="4.4" dy="-2.8">mut</tspan></text>
<rect x="405.40" y="457.00" width="6.20" height="6.20" fill="#44377a" />
<text transform="translate(414.60,463.00) scale(0.9434,1)" font-size="7.90" fill="#231f20" >stable mutations</text>
<rect x="405.40" y="468.95" width="6.20" height="6.20" fill="#a88cc4" />
<text transform="translate(414.60,474.95) scale(0.9434,1)" font-size="7.90" fill="#231f20" >mutation loss</text>
<rect x="405.40" y="480.90" width="6.20" height="6.20" fill="#a9d9e6" />
<text transform="translate(414.60,486.90) scale(0.9434,1)" font-size="7.90" fill="#231f20" >mutation gain</text>
<rect x="405.40" y="492.85" width="6.20" height="6.20" fill="#f1d47c" />
<text transform="translate(414.60,498.85) scale(0.9434,1)" font-size="7.90" fill="#231f20" >subclonal swap</text>
<rect x="0.5" y="0.5" width="519" height="583" fill="none" stroke="#585858" stroke-width="1.2"/>
</svg>
</body></html>
